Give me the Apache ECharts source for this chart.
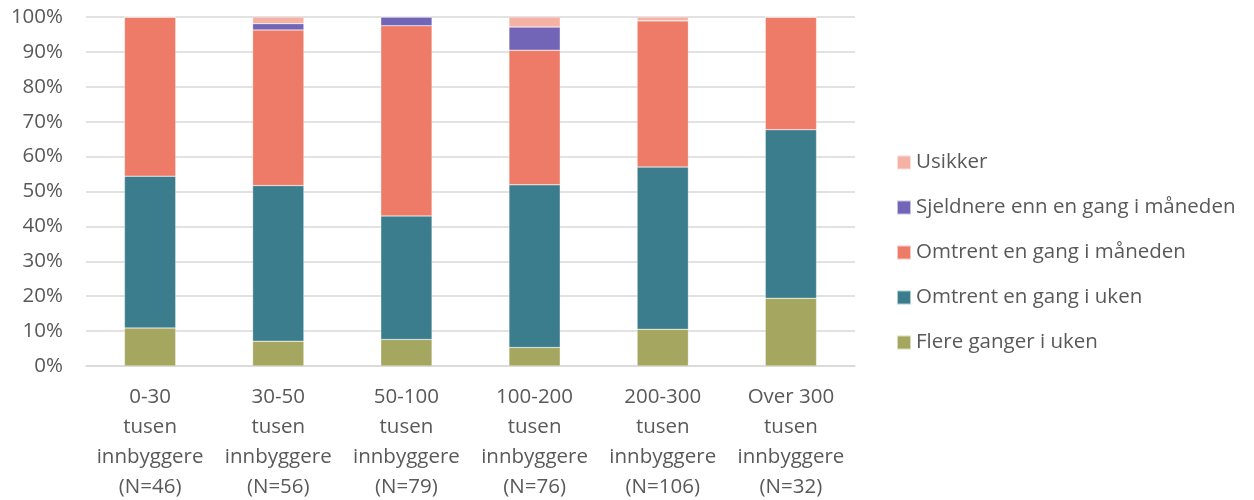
<!DOCTYPE html>
<html>
<head>
<meta charset="utf-8">
<script src="https://cdn.jsdelivr.net/npm/echarts@6/dist/echarts.min.js"></script>
<style>html,body{margin:0;padding:0;background:#fff;}#c{width:1254px;height:500px;}</style>
</head>
<body>
<div id="c"></div>
<script>
var categories = ["0-30\ntusen\ninnbyggere\n(N=46)", "30-50\ntusen\ninnbyggere\n(N=56)", "50-100\ntusen\ninnbyggere\n(N=79)", "100-200\ntusen\ninnbyggere\n(N=76)", "200-300\ntusen\ninnbyggere\n(N=106)", "Over 300\ntusen\ninnbyggere\n(N=32)"];
var flereGanger = [10.9, 7.1, 7.6, 5.3, 10.5, 19.4];
var enGangUken = [43.5, 44.6, 35.4, 46.6, 46.5, 48.3];
var enGangMaaneden = [45.6, 44.6, 54.5, 38.6, 41.9, 32.3];
var sjeldnere = [0, 1.8, 2.5, 6.6, 0, 0];
var usikker = [0, 1.9, 0, 2.9, 1.1, 0];
var yTicks = [0, 10, 20, 30, 40, 50, 60, 70, 80, 90, 100];

var names = ["Flere ganger i uken", "Omtrent en gang i uken", "Omtrent en gang i måneden", "Sjeldnere enn en gang i måneden", "Usikker"];
var colors = ["#A5A65F", "#3B7D8C", "#EE7B67", "#7265B8", "#F4B1A4"];
var datasets = [flereGanger, enGangUken, enGangMaaneden, sjeldnere, usikker];
var font = "Open Sans";

var series = datasets.map(function (d, i) {
  return {
    name: names[i], type: 'bar', stack: 'total', barWidth: '40%',
    itemStyle: { color: colors[i], borderColor: 'rgba(255,255,255,0.6)', borderWidth: 0.5 },
    data: d
  };
});

var chart = echarts.init(document.getElementById('c'));
chart.setOption({
  animation: false,
  textStyle: { fontFamily: font },
  grid: { left: 86, right: 399, top: 17, bottom: 134, containLabel: false, outerBoundsMode: 'none' },
  legend: {
    orient: 'vertical', left: 896, top: 152, padding: 0,
    data: names.slice().reverse(),
    itemWidth: 14, itemHeight: 14, itemGap: 24,
    icon: 'rect',
    textStyle: { fontFamily: font, fontSize: 20.5, lineHeight: 20, color: '#595959', padding: [0, 0, 0, 0] }
  },
  xAxis: {
    type: 'category', data: categories,
    axisLine: { lineStyle: { color: '#d9d9d9', width: 1.5 } },
    axisTick: { show: false },
    axisLabel: { interval: 0, fontFamily: font, fontSize: 20.5, color: '#595959', lineHeight: 30, margin: 16 }
  },
  yAxis: {
    type: 'value', min: 0, max: 100, interval: 10,
    axisLabel: { formatter: function (v) { return yTicks.indexOf(v) >= 0 ? v + '%' : ''; }, fontFamily: font, fontSize: 20.5, color: '#595959', margin: 23 },
    splitLine: { lineStyle: { color: '#d9d9d9', width: 1.5 } },
    axisLine: { show: false }, axisTick: { show: false }
  },
  series: series
});
</script>
</body>
</html>
